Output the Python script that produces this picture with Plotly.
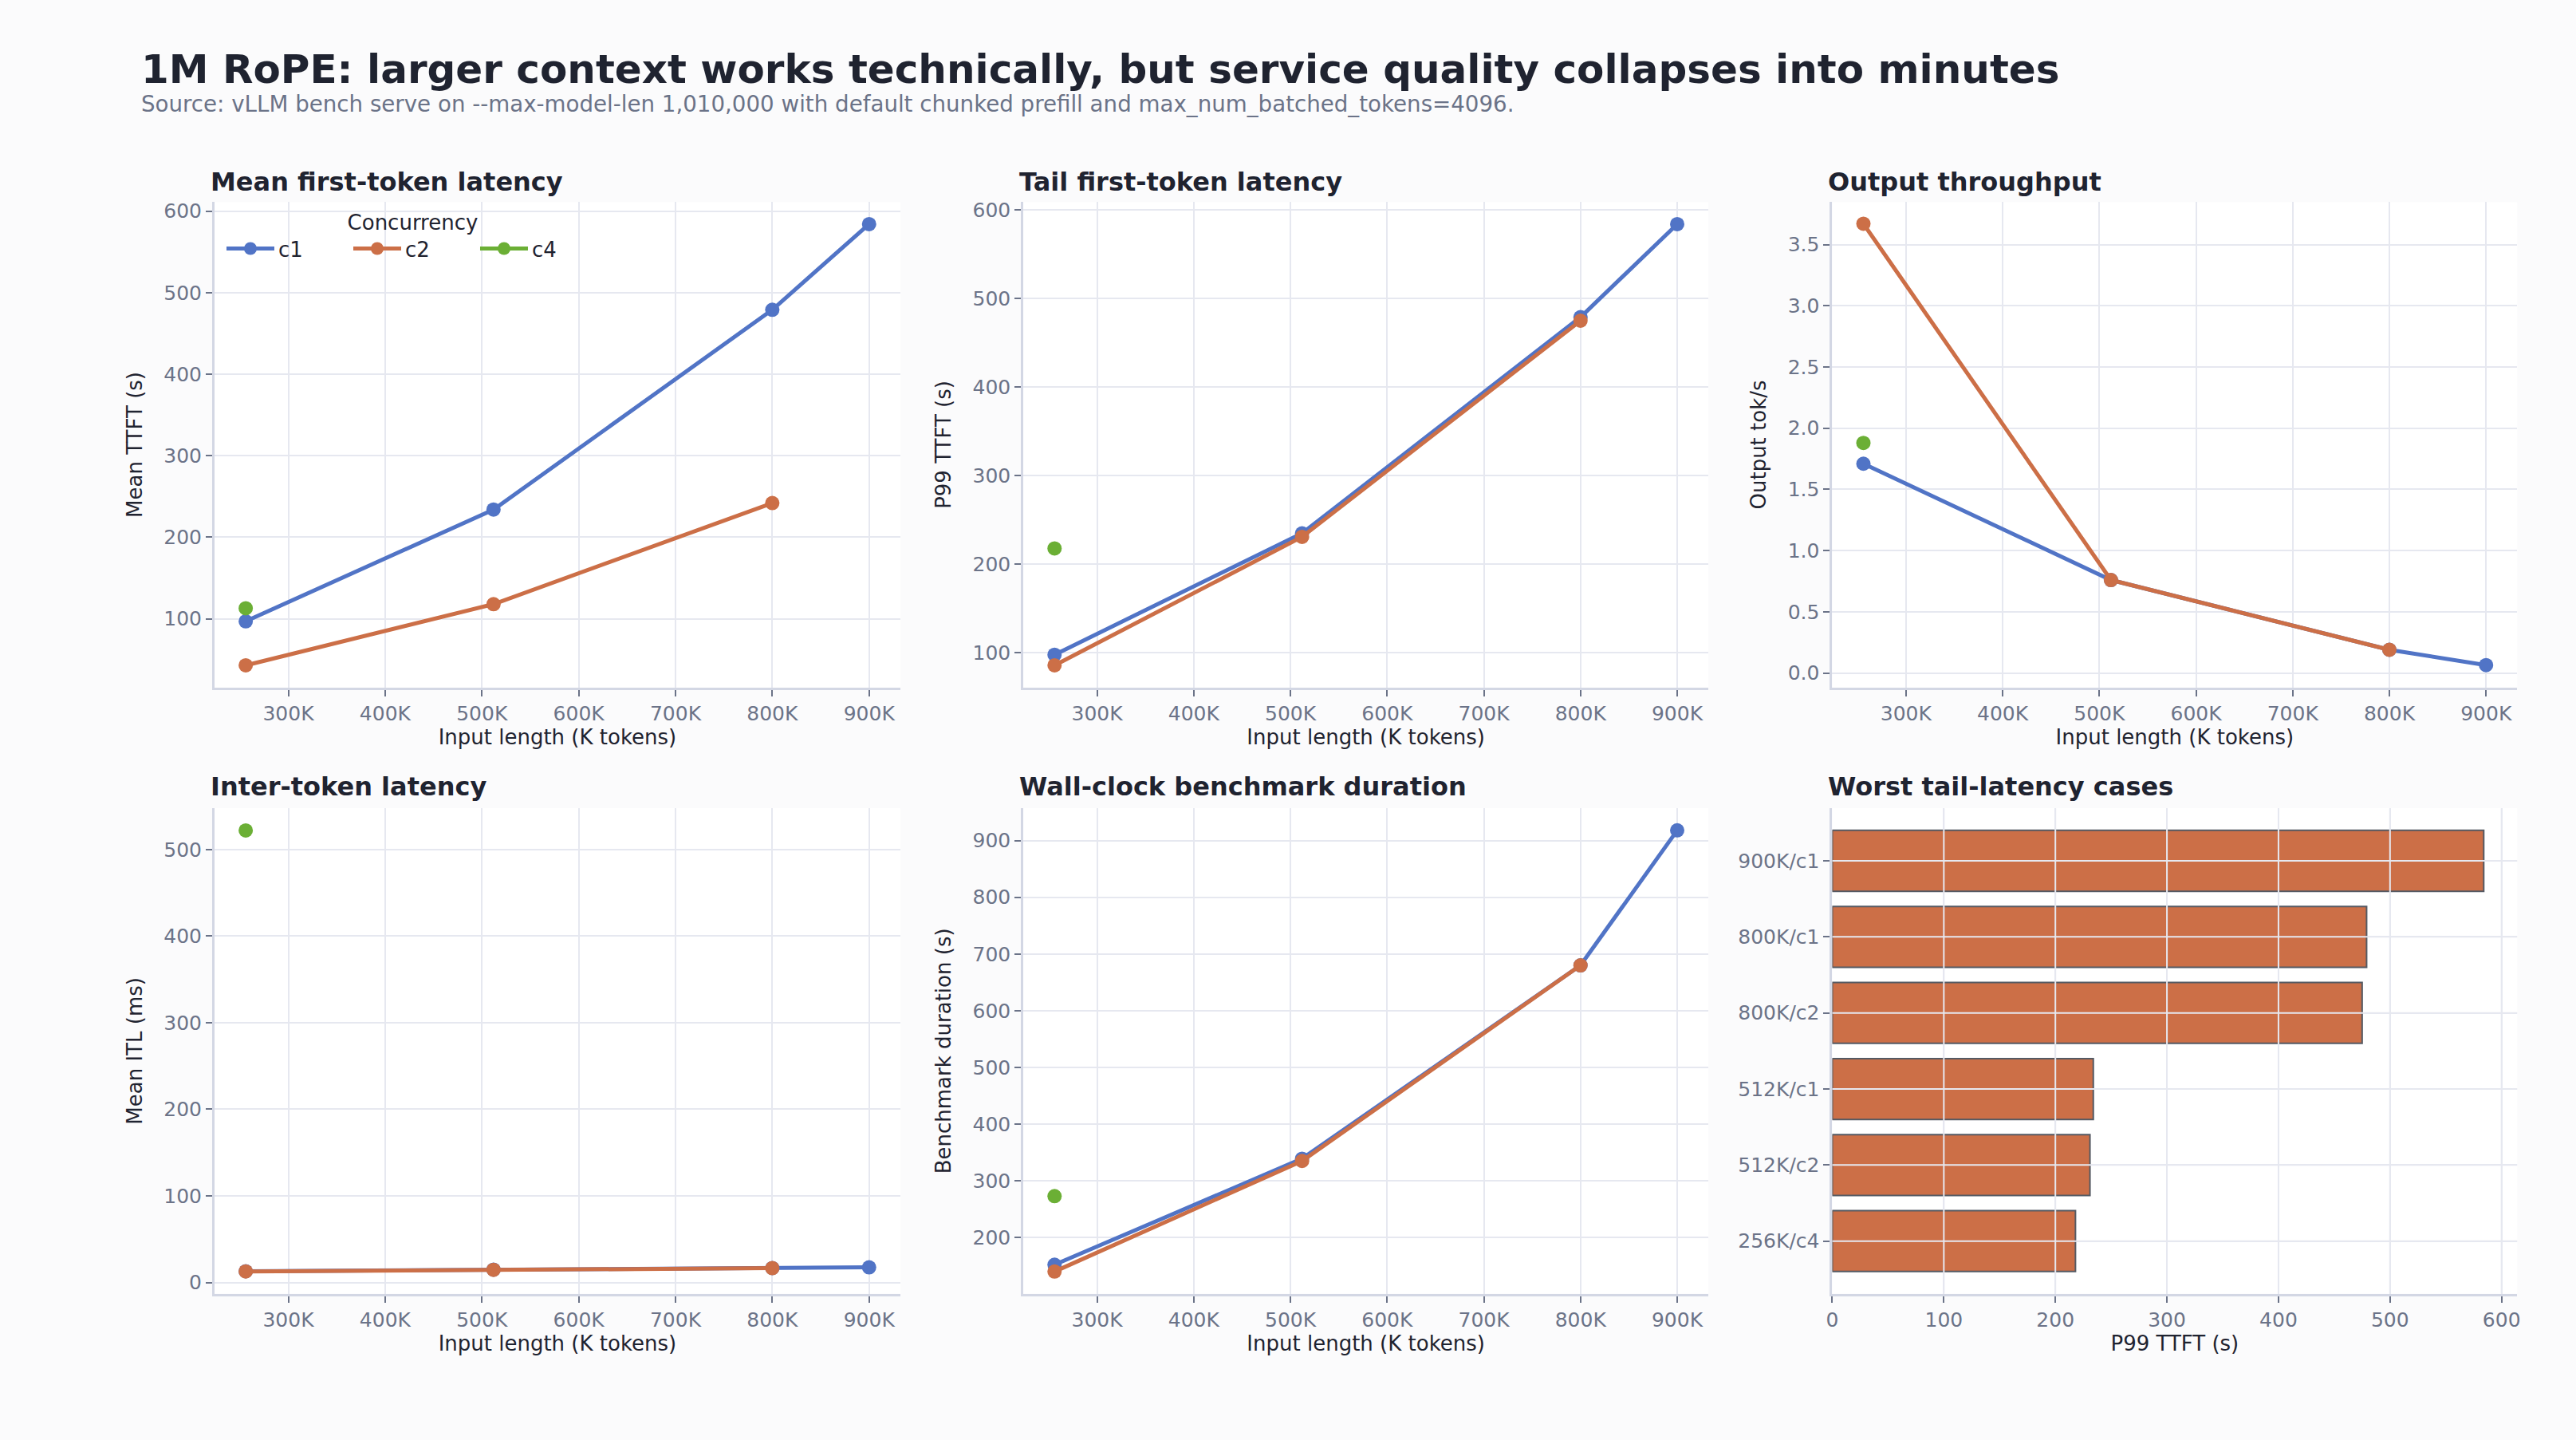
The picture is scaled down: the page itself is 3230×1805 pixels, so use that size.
import plotly.graph_objects as go

# ---------------- data ----------------
lengths_c1 = [256, 512, 800, 900]
lengths_c2 = [256, 512, 800]
lengths_c4 = [256]

mean_ttft_c1 = [97, 234, 479, 584]
mean_ttft_c2 = [43, 118, 242]
mean_ttft_c4 = [113]

p99_ttft_c1 = [98, 235, 479, 584]
p99_ttft_c2 = [86, 231, 475]
p99_ttft_c4 = [218]

out_tps_c1 = [1.71, 0.76, 0.19, 0.065]
out_tps_c2 = [3.67, 0.76, 0.19]
out_tps_c4 = [1.88]

itl_c1 = [12.9, 14.8, 16.6, 17.4]
itl_c2 = [12.7, 14.6, 16.5]
itl_c4 = [522]

dur_c1 = [152, 339, 680, 918]
dur_c2 = [140, 335, 680]
dur_c4 = [273]

worst_labels = ["900K/c1", "800K/c1", "800K/c2", "512K/c1", "512K/c2", "256K/c4"]
worst_p99 = [584, 479, 475, 234, 231, 218]

# ---------------- style ----------------
W, H = 3230, 1805
FONT = "DejaVu Sans"
BLUE = "#5174C6"
ORANGE = "#CC6F47"
GREEN = "#6BAF35"
GRID = "#E6E8F0"
SPINE = "#D3D7E4"
TICKC = "#6B7388"
DARK = "#1F2330"
TICK_SIZE = 25
AXT_SIZE = 26

def px_x(x0, x1):
    return [x0 / W, x1 / W]

def px_y(y0, y1):
    return [1 - y1 / H, 1 - y0 / H]

cols = [(262, 1125), (1280, 2142), (2298, 3160)]
rows = [(250, 860), (1012, 1622)]

fig = go.Figure()

series_colors = {"c1": BLUE, "c2": ORANGE, "c4": GREEN}

panels = [
    ("Mean first-token latency", "Mean TTFT (s)", mean_ttft_c1, mean_ttft_c2, mean_ttft_c4, [15.95, 611.05], 100, None),
    ("Tail first-token latency", "P99 TTFT (s)", p99_ttft_c1, p99_ttft_c2, p99_ttft_c4, [61.1, 608.9], 100, None),
    ("Output throughput", "Output tok/s", out_tps_c1, out_tps_c2, out_tps_c4, [-0.117, 3.847], 0.5, ".1f"),
    ("Inter-token latency", "Mean ITL (ms)", itl_c1, itl_c2, itl_c4, [-12.9, 547.5], 100, None),
    ("Wall-clock benchmark duration", "Benchmark duration (s)", dur_c1, dur_c2, dur_c4, [101.1, 956.9], 100, None),
]

layout_axes = {}
annotations = []

def axis_common():
    return dict(
        showgrid=True, gridcolor=GRID, gridwidth=2,
        showline=True, linecolor=SPINE, linewidth=3,
        ticks="outside", ticklen=8, tickwidth=2, tickcolor=TICKC,
        tickfont=dict(family=FONT, size=TICK_SIZE, color=TICKC),
        zeroline=False, mirror=False,
    )

for i, (title, ytitle, c1, c2, c4, yr, dt, fmt) in enumerate(panels):
    r, c = divmod(i, 3)
    idx = i + 1
    xa = f"x{idx}" if idx > 1 else "x"
    ya = f"y{idx}" if idx > 1 else "y"
    for name, xs, ys in (("c1", lengths_c1, c1), ("c2", lengths_c2, c2), ("c4", lengths_c4, c4)):
        fig.add_trace(go.Scatter(
            x=xs, y=ys, mode="lines+markers", name=name,
            line=dict(color=series_colors[name], width=5),
            marker=dict(color=series_colors[name], size=18),
            xaxis=xa, yaxis=ya, showlegend=(i == 0), legendgroup=name,
        ))
    xk = "xaxis" if idx == 1 else f"xaxis{idx}"
    yk = "yaxis" if idx == 1 else f"yaxis{idx}"
    xd = axis_common()
    xd.update(domain=px_x(*cols[c]), anchor=ya, range=[223.8, 932.2],
              tick0=0, dtick=100, ticksuffix="K",
              title=dict(text="Input length (K tokens)", font=dict(family=FONT, size=AXT_SIZE, color=DARK), standoff=8))
    yd = axis_common()
    yd.update(domain=px_y(*rows[r]), anchor=xa, range=yr, tick0=0, dtick=dt,
              title=dict(text=ytitle, font=dict(family=FONT, size=AXT_SIZE, color=DARK), standoff=20))
    if fmt:
        yd["tickformat"] = fmt
    layout_axes[xk] = xd
    layout_axes[yk] = yd
    annotations.append(dict(
        text=f"<b>{title}</b>", x=(cols[c][0] - 7) / W, y=1 - (225 if r == 0 else 985) / H,
        xref="paper", yref="paper", xanchor="left", yanchor="middle", showarrow=False,
        font=dict(family=FONT, size=32, color=DARK)))

# bar panel
fig.add_trace(go.Bar(
    x=worst_p99, y=worst_labels, orientation="h", width=0.8,
    marker=dict(color=ORANGE, line=dict(color="#555A63", width=2)),
    xaxis="x6", yaxis="y6", showlegend=False,
))
cat_order = list(reversed(worst_labels))
xd = axis_common()
xd.update(domain=px_x(*cols[2]), anchor="y6", range=[0, 614], dtick=100,
          title=dict(text="P99 TTFT (s)", font=dict(family=FONT, size=AXT_SIZE, color=DARK), standoff=8))
yd = axis_common()
yd.update(domain=px_y(*rows[1]), anchor="x6", type="category", categoryorder="array",
          categoryarray=cat_order, range=[-0.69, 5.69])
layout_axes["xaxis6"] = xd
layout_axes["yaxis6"] = yd
annotations.append(dict(
    text="<b>Worst tail-latency cases</b>", x=(cols[2][0] - 7) / W, y=1 - 985 / H,
    xref="paper", yref="paper", xanchor="left", yanchor="middle", showarrow=False,
    font=dict(family=FONT, size=32, color=DARK)))

# grid drawn above the bars (as in the reference)
shapes = []
for v in range(100, 601, 100):
    shapes.append(dict(type="line", xref="x6", yref="y6 domain", x0=v, x1=v, y0=0, y1=1,
                       line=dict(color=GRID, width=2), layer="above"))
for lab in worst_labels:
    shapes.append(dict(type="line", xref="x6 domain", yref="y6", x0=0, x1=1, y0=lab, y1=lab,
                       line=dict(color=GRID, width=2), layer="above"))

# main title and subtitle
annotations.append(dict(
    text="<b>1M RoPE: larger context works technically, but service quality collapses into minutes</b>",
    x=168 / W, y=1 - 83 / H, xref="paper", yref="paper", xanchor="left", yanchor="middle",
    showarrow=False, font=dict(family=FONT, size=50, color=DARK)))
annotations.append(dict(
    text="Source: vLLM bench serve on --max-model-len 1,010,000 with default chunked prefill and max_num_batched_tokens=4096.",
    x=168 / W, y=1 - 127 / H, xref="paper", yref="paper", xanchor="left", yanchor="middle",
    showarrow=False, font=dict(family=FONT, size=27.7, color="#6B7388")))

fig.update_layout(
    width=W, height=H,
    margin=dict(l=0, r=0, t=0, b=0),
    paper_bgcolor="#FBFBFC", plot_bgcolor="#FFFFFF",
    font=dict(family=FONT, color=DARK),
    annotations=annotations,
    shapes=shapes,
    legend=dict(
        orientation="h", x=272 / W, y=1 - 251 / H, xanchor="left", yanchor="top",
        bgcolor="rgba(0,0,0,0)",
        title=dict(text="Concurrency", side="top center", font=dict(family=FONT, size=26, color=DARK)),
        font=dict(family=FONT, size=26, color=DARK),
        entrywidth=84, itemwidth=60,
    ),
    **layout_axes,
)

fig.write_html("out.html")
